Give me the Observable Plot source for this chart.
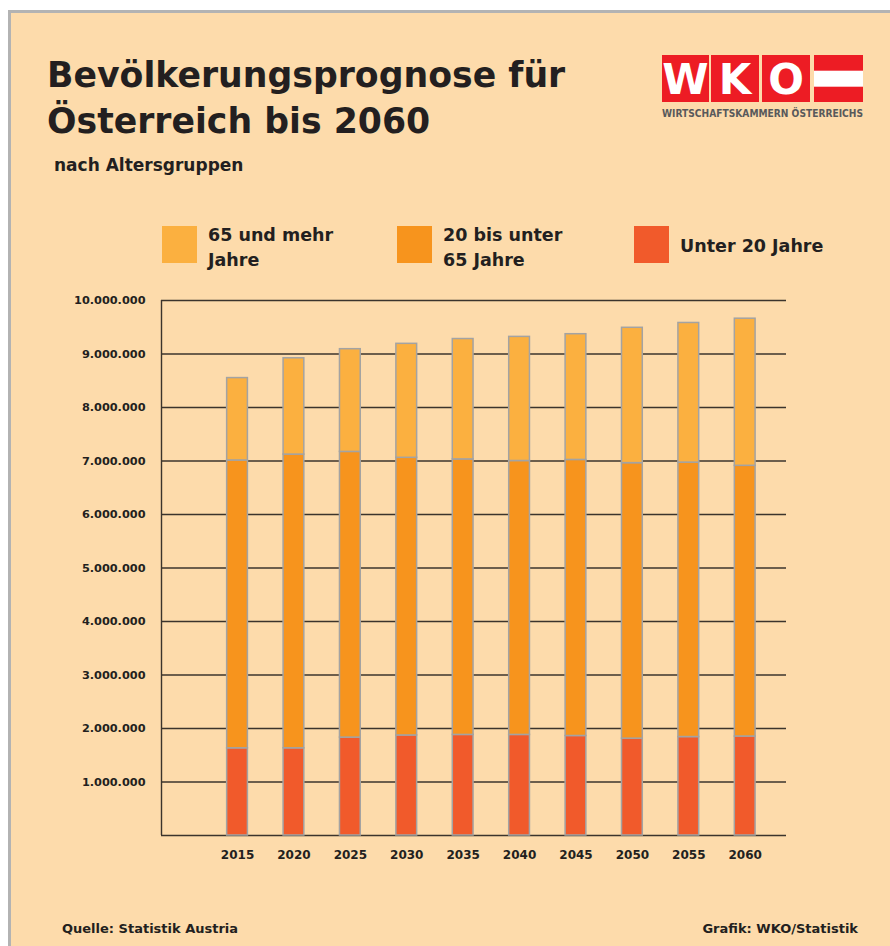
<!DOCTYPE html>
<html>
<head>
<meta charset="utf-8">
<script src="https://cdn.jsdelivr.net/npm/d3@7"></script>
<script src="https://cdn.jsdelivr.net/npm/@observablehq/plot@0.6"></script>
<style>
html, body { margin: 0; padding: 0; background: #ffffff; }
#wrap { position: relative; width: 890px; height: 946px; overflow: hidden; background: #ffffff; }
#panel { position: absolute; left: 8px; top: 10px; width: 879px; height: 933px; background: #FDDBAB;
         border-left: 3px solid #b3b3b3; border-top: 3px solid #b3b3b3; }
#deco { position: absolute; left: 0; top: 0; }
#chart { position: absolute; left: 0; top: 280px; }
</style>
</head>
<body>
<div id="wrap">
  <div id="panel"></div>
  <svg id="deco" width="890" height="946"></svg>
  <div id="chart"></div>
</div>
<script>
// ---- data (values in persons) ----
const years = [2015, 2020, 2025, 2030, 2035, 2040, 2045, 2050, 2055, 2060];
const under20 = [1630000, 1630000, 1830000, 1870000, 1880000, 1880000, 1860000, 1810000, 1840000, 1850000];
const age20to65 = [5380000, 5490000, 5340000, 5190000, 5150000, 5120000, 5160000, 5150000, 5130000, 5060000];
const age65plus = [1540000, 1800000, 1920000, 2130000, 2250000, 2320000, 2350000, 2530000, 2610000, 2750000];
const groups = ["Unter 20 Jahre", "20 bis unter 65 Jahre", "65 und mehr Jahre"];
const colors = ["#F15A2B", "#F7941D", "#FBB040"];
const yTicks = [0, 1000000, 2000000, 3000000, 4000000, 5000000, 6000000, 7000000, 8000000, 9000000, 10000000];
const legendItems = [
  {lines: ["65 und mehr", "Jahre"], color: "#FBB040"},
  {lines: ["20 bis unter", "65 Jahre"], color: "#F7941D"},
  {lines: ["Unter 20 Jahre"], color: "#F15A2B"}
];
const titleLines = ["Bevölkerungsprognose für", "Österreich bis 2060"];
const subtitle = "nach Altersgruppen";
const sourceText = "Quelle: Statistik Austria";
const creditText = "Grafik: WKO/Statistik";
const logoLetters = ["W", "K", "O"];
const logoText = "WIRTSCHAFTSKAMMERN ÖSTERREICHS";

const xDomain = [2008.26, 2063.66];
const halfBar = 0.92;

const rows = [];
years.forEach((year, i) => {
  rows.push({year, group: groups[0], value: under20[i]});
  rows.push({year, group: groups[1], value: age20to65[i]});
  rows.push({year, group: groups[2], value: age65plus[i]});
});

const de = d3.formatLocale({decimal: ",", thousands: ".", grouping: [3], currency: ["", " €"]});
const fmt = de.format(",d");

const chart = Plot.plot({
  width: 890,
  height: 600,
  marginTop: 20,
  marginBottom: 45,
  marginLeft: 161,
  marginRight: 104,
  style: {background: "transparent", fontFamily: "DejaVu Sans", fontWeight: "bold", fontSize: "11px", color: "#231f20", overflow: "visible"},
  x: {type: "linear", domain: xDomain, axis: null},
  y: {domain: [0, 10000000], axis: null},
  color: {domain: groups, range: colors},
  marks: [
    Plot.ruleY(yTicks, {stroke: "#3b342c", strokeWidth: 1.4}),
    Plot.ruleX([xDomain[0]], {stroke: "#3b342c", strokeWidth: 1.4}),
    Plot.rectY(rows, {
      x1: d => d.year - halfBar,
      x2: d => d.year + halfBar,
      y: "value",
      fill: "group",
      stroke: "#a3a3a3",
      strokeWidth: 1.5
    }),
    Plot.text(yTicks.slice(1), {y: d => d, text: d => fmt(d), frameAnchor: "left", textAnchor: "end", dx: -16, fontSize: 11.3, fill: "#231f20"}),
    Plot.text(years, {x: d => d, text: d => String(d), frameAnchor: "bottom", dy: 23, fontSize: 12, fill: "#231f20"})
  ]
});
document.getElementById("chart").appendChild(chart);

// ---- header, legend, footer, logo ----
const svg = d3.select("#deco");
const ink = "#231f20";

svg.selectAll("text.title").data(titleLines).join("text")
  .attr("class", "title")
  .attr("x", 47).attr("y", (d, i) => 87 + i * 46)
  .attr("font-family", "DejaVu Sans").attr("font-weight", "bold").attr("font-size", 34.7)
  .attr("fill", ink).text(d => d);

svg.append("text").attr("x", 54).attr("y", 171)
  .attr("font-family", "DejaVu Sans").attr("font-weight", "bold").attr("font-size", 17)
  .attr("fill", ink).text(subtitle);

const legX = [162, 397, 634];
legendItems.forEach((item, i) => {
  svg.append("rect").attr("x", legX[i]).attr("y", 226).attr("width", 35).attr("height", 37).attr("fill", item.color);
  const base = item.lines.length === 1 ? 252 : 241;
  item.lines.forEach((line, j) => {
    svg.append("text").attr("x", legX[i] + 46).attr("y", base + j * 25)
      .attr("font-family", "DejaVu Sans").attr("font-weight", "bold").attr("font-size", 17.5)
      .attr("fill", ink).text(line);
  });
});

svg.append("text").attr("x", 62).attr("y", 933)
  .attr("font-family", "DejaVu Sans").attr("font-weight", "bold").attr("font-size", 13)
  .attr("fill", ink).text(sourceText);
svg.append("text").attr("x", 858).attr("y", 933).attr("text-anchor", "end")
  .attr("font-family", "DejaVu Sans").attr("font-weight", "bold").attr("font-size", 13)
  .attr("fill", ink).text(creditText);

// logo
const red = "#ED1C24";
const sq = [[662, 47], [711, 48], [762, 48]];
logoLetters.forEach((L, i) => {
  svg.append("rect").attr("x", sq[i][0]).attr("y", 55).attr("width", sq[i][1]).attr("height", 47).attr("fill", red);
  svg.append("text").attr("x", sq[i][0] + sq[i][1] / 2).attr("y", 94).attr("text-anchor", "middle")
    .attr("font-family", "DejaVu Sans").attr("font-weight", "bold").attr("font-size", 42)
    .attr("fill", "#ffffff").text(L);
});
svg.append("rect").attr("x", 814).attr("y", 55).attr("width", 49).attr("height", 47).attr("fill", red);
svg.append("rect").attr("x", 814).attr("y", 70.7).attr("width", 49).attr("height", 16).attr("fill", "#ffffff");
svg.append("text").attr("x", 662).attr("y", 117)
  .attr("font-family", "DejaVu Sans Condensed, DejaVu Sans").attr("font-weight", "bold").attr("font-size", 10.5)
  .attr("textLength", 201).attr("lengthAdjust", "spacingAndGlyphs")
  .attr("fill", "#58595b").text(logoText);
</script>
</body>
</html>
